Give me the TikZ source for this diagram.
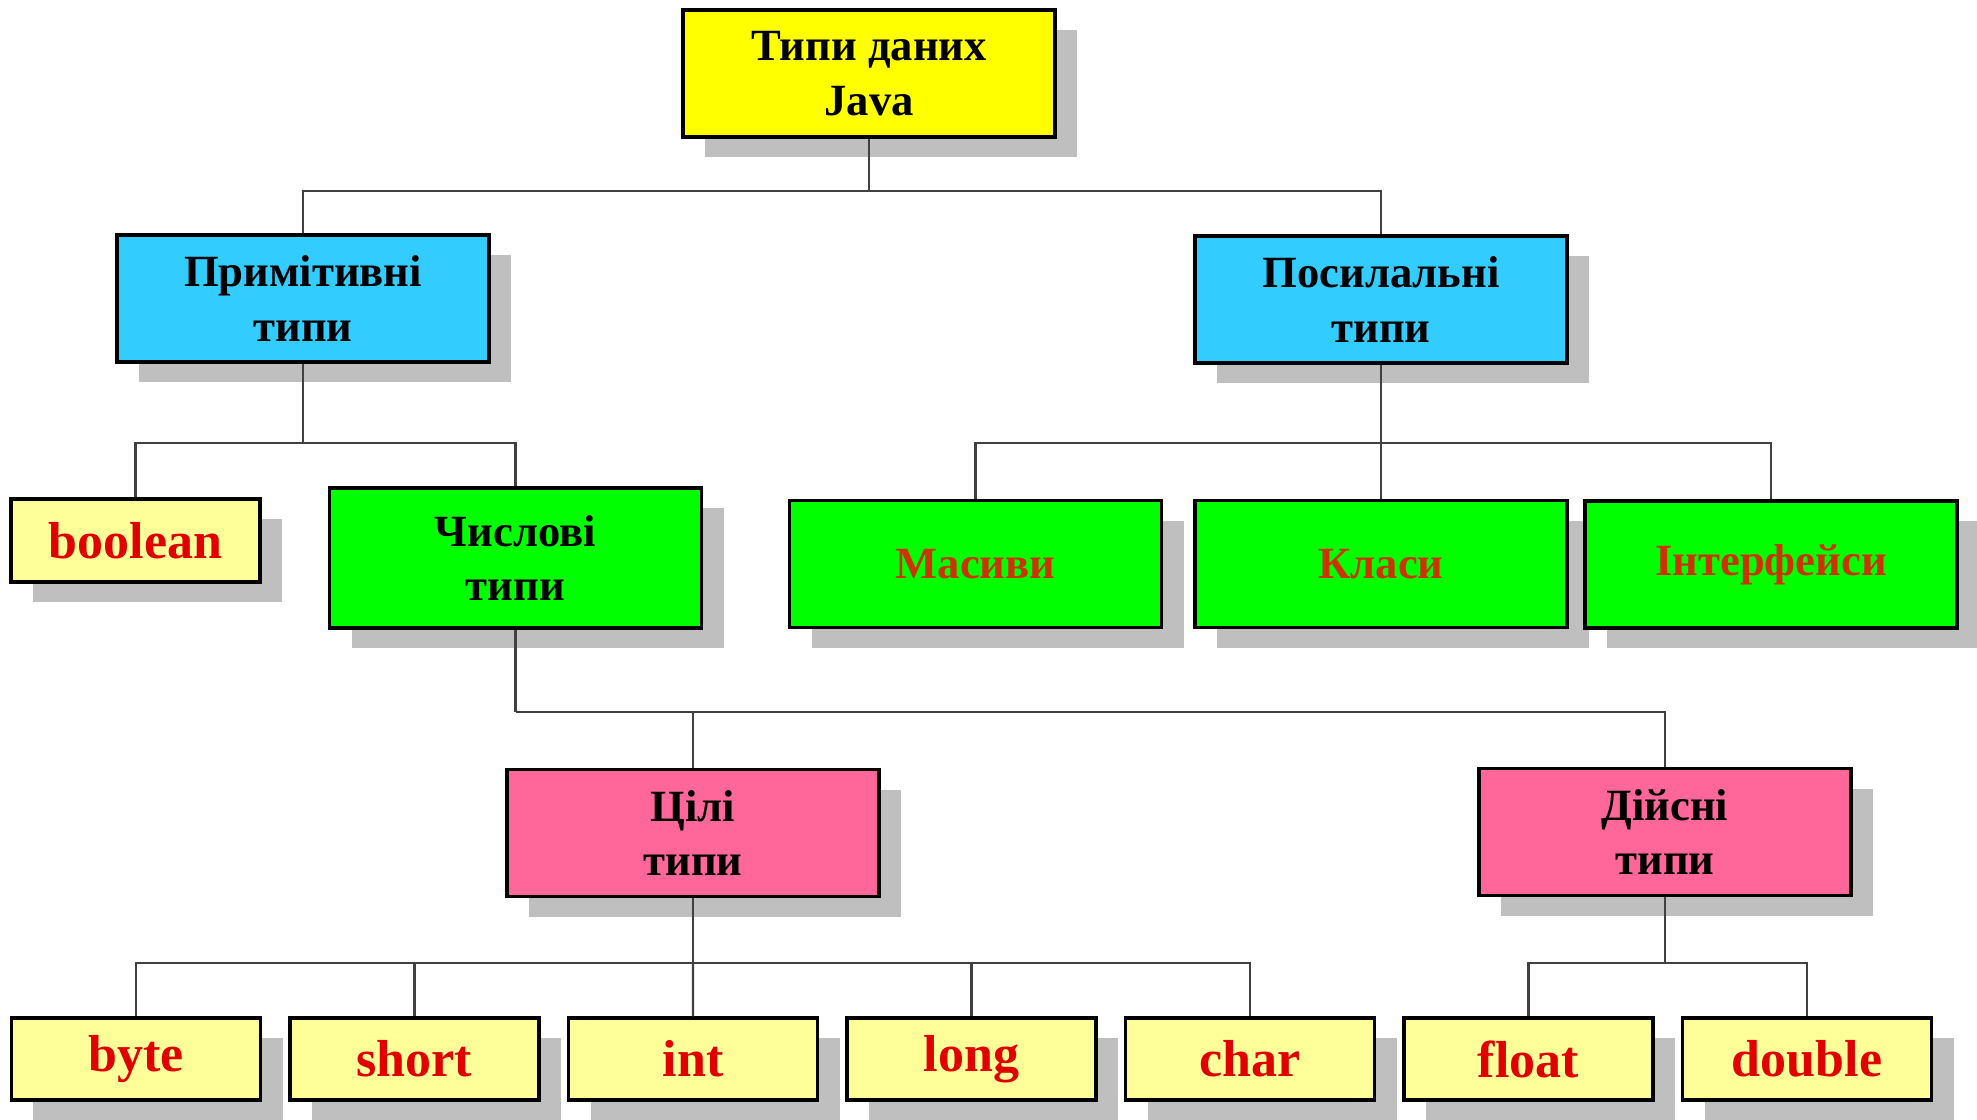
\documentclass[tikz,border=0pt]{standalone}
\usepackage{fontspec}
\setmainfont{Liberation Serif}
\usetikzlibrary{shadows}

\definecolor{rootyellow}{HTML}{FFFF00}
\definecolor{kindblue}{HTML}{33CCFF}
\definecolor{groupgreen}{HTML}{00FF00}
\definecolor{numpink}{HTML}{FF6699}
\definecolor{leafyellow}{HTML}{FFFF99}
\definecolor{leafred}{HTML}{E00000}
\definecolor{refred}{HTML}{CC3300}
\definecolor{wiregray}{HTML}{404040}

\begin{document}
\begin{tikzpicture}[x=1mm,y=-1mm,
  box/.style={draw=black,line width=0.9pt,align=center,inner sep=0pt,
    drop shadow={shadow xshift=2.2mm,shadow yshift=-2mm,fill=gray!50,opacity=1},
    font=\fontsize{12.7}{15.5}\selectfont\bfseries},
  big/.style={box,minimum width=37.2mm,minimum height=12.7mm},
  leaf/.style={box,fill=leafyellow,text=leafred,minimum width=24.9mm,
    minimum height=8.2mm,font=\fontsize{14.8}{17}\selectfont\bfseries},
  wire/.style={draw=wiregray,line width=0.6pt}]
  \useasboundingbox (0,0) rectangle (197.7,111.9);
  % upper levels
  \node[big,fill=rootyellow] (java) at (86.9,7.35) {Типи даних\\Java};
  \node[big,fill=kindblue] (prim) at (30.3,29.85) {Примітивні\\типи};
  \node[big,fill=kindblue] (refs) at (138.1,29.95) {Посилальні\\типи};
  % second level
  \node[leaf,minimum height=8.3mm] (bool) at (13.55,54.05) {boolean};
  \node[big,fill=groupgreen,minimum height=14mm] (num) at (51.55,55.8) {Числові\\типи};
  \node[big,fill=groupgreen,text=refred] (arr) at (97.55,56.4) {Масиви};
  \node[big,fill=groupgreen,text=refred] (cls) at (138.1,56.4) {Класи};
  \node[big,fill=groupgreen,text=refred] (intf) at (177.1,56.45) {Інтерфейси};
  % numeric groups
  \node[big,fill=numpink] (ints) at (69.3,83.3) {Цілі\\типи};
  \node[big,fill=numpink] (reals) at (166.5,83.2) {Дійсні\\типи};
  % leaves
  \foreach \t [count=\i from 0] in {byte,short,int,long,char,float,double}
    \node[leaf] (\t) at (13.6+27.85*\i,105.9) {\t};
  % connectors
  \draw[wire] (java.south) -- ++(0,5.2) coordinate (b1);
  \draw[wire] (prim.north) |- (b1) -| (refs.north);
  \draw[wire] (prim.south) -- ++(0,7.9) coordinate (b2);
  \draw[wire] (bool.north) |- (b2) -| (num.north);
  \draw[wire] (refs.south) -- ++(0,7.8) coordinate (b3);
  \draw[wire] (b3) -- (cls.north);
  \draw[wire] (arr.north) |- (b3) -| (intf.north);
  \draw[wire] (num.south) -- ++(0,8.2) coordinate (b4);
  \draw[wire] (b4) -| (reals.north);
  \draw[wire] (b4 -| ints.north) -- (ints.north);
  \draw[wire] (ints.south) -- ++(0,6.5) coordinate (b5);
  \draw[wire] (byte.north) |- (b5) -| (char.north);
  \draw[wire] (b5) -- (int.north);
  \foreach \t in {short,long}
    \draw[wire] (b5 -| \t.north) -- (\t.north);
  \draw[wire] (reals.south) -- ++(0,6.6) coordinate (b6);
  \draw[wire] (float.north) |- (b6) -| (double.north);
\end{tikzpicture}
\end{document}
